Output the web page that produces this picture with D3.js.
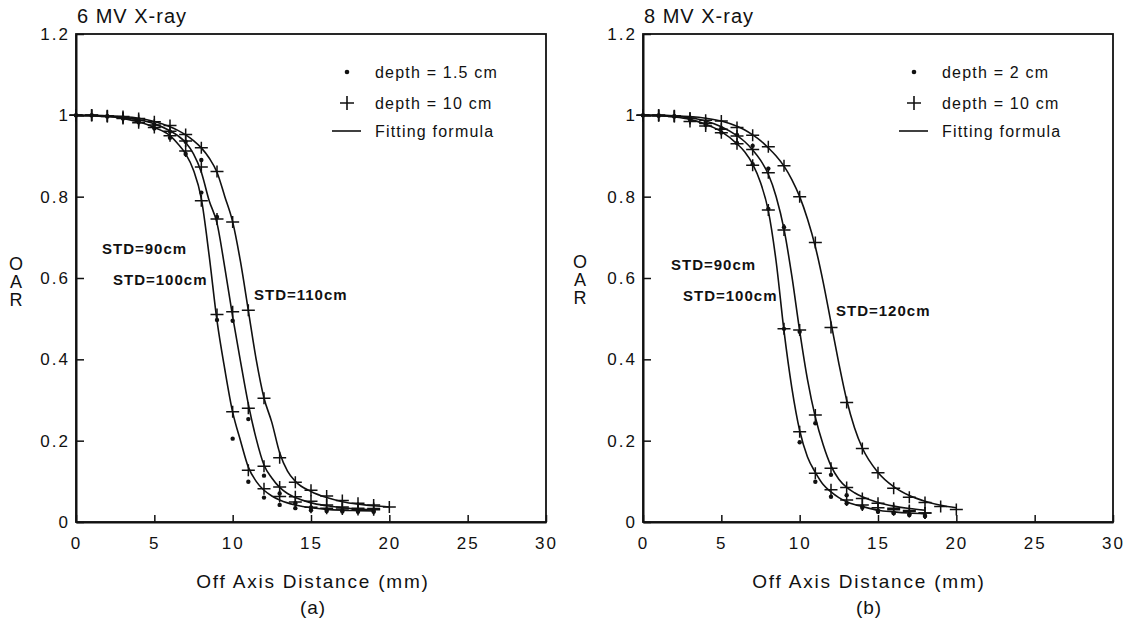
<!DOCTYPE html>
<html>
<head>
<meta charset="utf-8">
<script src="https://cdn.jsdelivr.net/npm/d3@7"></script>
<style>
  body { margin: 0; background: #fff; }
  svg { display: block; font-family: "Liberation Sans", Arial, Helvetica, sans-serif; }
  .tick text { font-size: 17px; letter-spacing: 2px; fill: #111; }
  .tick line { stroke: #111; stroke-width: 1.5; }
  .domain { stroke: #111; stroke-width: 2; }
  .label { fill: #111; }
</style>
</head>
<body>
<svg id="chart" width="1139" height="621"></svg>
<script>
// Tick values for both panels
const xTicks = [0, 5, 10, 15, 20, 25, 30];
const yTicks = [0, 0.2, 0.4, 0.6, 0.8, 1.0, 1.2];

// Measured positions (mm) of the markers
const markX = [0, 1, 2, 3, 4, 5, 6, 7, 8, 9, 10, 11, 12, 13, 14, 15, 16, 17, 18, 19, 20];

const fitX = [0, 1, 2, 3, 4, 5, 6, 6.5, 7, 7.5, 8, 8.5, 9, 9.5, 10, 10.5, 11, 11.5, 12, 12.5, 13, 13.5, 14, 15, 16, 17, 18, 19, 20];

// ---- (a) 6 MV X-ray ----
const fitA90  = [1, 0.999, 0.997, 0.992, 0.984, 0.97, 0.95, 0.93, 0.905, 0.865, 0.795, 0.655, 0.495, 0.375, 0.27, 0.2, 0.135, 0.1, 0.078, 0.064, 0.054, 0.047, 0.042, 0.035, 0.031, 0.029, 0.028, 0.027, null];
const fitA100 = [1, 0.999, 0.998, 0.995, 0.989, 0.979, 0.962, 0.95, 0.933, 0.905, 0.86, 0.79, 0.735, 0.625, 0.505, 0.395, 0.29, 0.205, 0.14, 0.108, 0.085, 0.07, 0.06, 0.047, 0.04, 0.035, 0.032, 0.03, null];
const fitA110 = [1, 1, 0.999, 0.997, 0.993, 0.985, 0.972, 0.963, 0.952, 0.938, 0.92, 0.895, 0.86, 0.8, 0.738, 0.64, 0.52, 0.4, 0.305, 0.245, 0.17, 0.125, 0.1, 0.075, 0.06, 0.05, 0.044, 0.04, 0.037];

const plusA90  = [1, 1, 0.997, 0.992, 0.982, 0.97, 0.95, 0.912, 0.79, 0.51, 0.271, 0.127, 0.082, 0.063, 0.049, 0.036, 0.034, 0.032, 0.031, 0.03];
const plusA100 = [1, 1, 0.998, 0.994, 0.987, 0.976, 0.961, 0.937, 0.873, 0.745, 0.517, 0.28, 0.137, 0.086, 0.062, 0.051, 0.042, 0.037, 0.034, 0.033];
const plusA110 = [1, 1, 0.999, 0.997, 0.992, 0.984, 0.975, 0.953, 0.92, 0.862, 0.738, 0.521, 0.304, 0.158, 0.098, 0.078, 0.064, 0.053, 0.046, 0.042, 0.037];
const dotA90   = [1, 1, 0.997, 0.992, 0.983, 0.968, 0.945, 0.905, 0.81, 0.497, 0.205, 0.099, 0.06, 0.042, 0.034, 0.029, 0.027, 0.026, 0.025, 0.025];
const dotA100  = [1, 1, 0.998, 0.994, 0.987, 0.977, 0.96, 0.935, 0.89, 0.75, 0.495, 0.253, 0.114, 0.07, 0.046, 0.036, 0.031, 0.029, 0.028, 0.027];

// ---- (b) 8 MV X-ray ----
const fitB90  = [1, 0.999, 0.996, 0.99, 0.978, 0.96, 0.93, 0.91, 0.88, 0.835, 0.765, 0.64, 0.47, 0.33, 0.225, 0.16, 0.122, 0.092, 0.074, 0.06, 0.05, 0.043, 0.038, 0.029, 0.025, 0.022, 0.02, null, null];
const fitB100 = [1, 1, 0.998, 0.994, 0.986, 0.972, 0.95, 0.935, 0.915, 0.89, 0.855, 0.8, 0.72, 0.605, 0.47, 0.35, 0.258, 0.19, 0.138, 0.105, 0.085, 0.072, 0.062, 0.048, 0.039, 0.033, 0.029, null, null];
const fitB120 = [1, 1, 0.999, 0.997, 0.993, 0.986, 0.973, 0.964, 0.952, 0.938, 0.92, 0.9, 0.875, 0.842, 0.8, 0.745, 0.677, 0.59, 0.49, 0.39, 0.3, 0.232, 0.182, 0.122, 0.087, 0.065, 0.051, 0.041, 0.035];

const plusB90  = [1, 0.999, 0.997, 0.985, 0.974, 0.957, 0.93, 0.877, 0.767, 0.475, 0.222, 0.12, 0.079, 0.054, 0.042, 0.035, 0.03, 0.026, 0.022];
const plusB100 = [1, 1, 0.998, 0.993, 0.98, 0.966, 0.949, 0.916, 0.859, 0.718, 0.472, 0.263, 0.132, 0.085, 0.058, 0.046, 0.034, 0.028, 0.022];
const plusB120 = [1, 1, 0.999, 0.993, 0.988, 0.986, 0.97, 0.951, 0.923, 0.876, 0.8, 0.687, 0.478, 0.294, 0.181, 0.121, 0.083, 0.061, 0.048, 0.038, 0.031];
const dotB90   = [1, 0.999, 0.997, 0.99, 0.976, 0.958, 0.932, 0.88, 0.77, 0.475, 0.196, 0.099, 0.062, 0.046, 0.035, 0.025, 0.022, 0.019, 0.015];
const dotB100  = [1, 1, 0.998, 0.993, 0.982, 0.968, 0.952, 0.925, 0.869, 0.725, 0.468, 0.243, 0.116, 0.066, 0.038, 0.028, 0.022, 0.017, 0.015];

// Text labels
const titles  = ['6 MV X-ray', '8 MV X-ray'];
const subs    = ['(a)', '(b)'];
const legendA = ['depth = 1.5 cm', 'depth = 10 cm', 'Fitting formula'];
const legendB = ['depth = 2 cm', 'depth = 10 cm', 'Fitting formula'];
const stdA    = ['STD=90cm', 'STD=100cm', 'STD=110cm'];
const stdB    = ['STD=90cm', 'STD=100cm', 'STD=120cm'];

const svg = d3.select('#chart');

// Helper: zip an x array and a y array into [x, y] pairs
function zip(xs, ys) {
    return ys.map((v, i) => [xs[i], v]);
}

function drawPanel(p) {
    const x = d3.scaleLinear().domain([0, 30]).range([p.left, p.right]);
    const y = d3.scaleLinear().domain([0, 1.2]).range([522, 34]);
    const g = svg.append('g');

    // frame (top + right sides)
    g.append('rect')
        .attr('x', p.left).attr('y', 34)
        .attr('width', p.right - p.left).attr('height', 522 - 34)
        .attr('fill', 'none').attr('stroke', '#111').attr('stroke-width', 1.8);

    // axes with inward ticks
    g.append('g')
        .attr('transform', 'translate(0,522)')
        .call(d3.axisBottom(x).tickValues(xTicks).tickSize(-7).tickSizeOuter(0).tickPadding(15));
    g.append('g')
        .attr('transform', `translate(${p.left},0)`)
        .call(d3.axisLeft(y).tickValues(yTicks).tickSize(-8).tickSizeOuter(0).tickPadding(6)
            .tickFormat(d => d === 0 ? '0' : d === 1 ? '1' : d3.format('.1f')(d)));

    // fitted curves
    const line = d3.line()
        .defined(d => d[1] != null)
        .x(d => x(d[0]))
        .y(d => y(d[1]))
        .curve(d3.curveMonotoneX);
    p.fits.forEach(f => {
        g.append('path')
            .datum(zip(fitX, f))
            .attr('d', line)
            .attr('fill', 'none')
            .attr('stroke', '#111')
            .attr('stroke-width', 1.6);
    });

    // depth = 1.5 / 2 cm dots
    p.dots.forEach(ds => {
        g.append('g').selectAll('circle')
            .data(zip(markX, ds))
            .join('circle')
            .attr('cx', d => x(d[0]))
            .attr('cy', d => y(d[1]))
            .attr('r', 2.2)
            .attr('fill', '#111');
    });

    // depth = 10 cm pluses
    p.pluses.forEach(ps => {
        g.append('g').selectAll('path')
            .data(zip(markX, ps))
            .join('path')
            .attr('transform', d => `translate(${x(d[0])},${y(d[1])})`)
            .attr('d', 'M-6.5,0H6.5M0,-6V6')
            .attr('stroke', '#111')
            .attr('stroke-width', 1.5);
    });

    // title
    g.append('text').attr('class', 'label')
        .attr('x', p.left + 1).attr('y', 23)
        .style('font-size', '20px').style('letter-spacing', '1px')
        .text(p.title);

    // x axis title and sub label
    g.append('text').attr('class', 'label')
        .attr('x', p.xLabelX).attr('y', 588)
        .attr('text-anchor', 'middle')
        .style('font-size', '19px').style('letter-spacing', '1.8px')
        .text('Off Axis Distance (mm)');
    g.append('text').attr('class', 'label')
        .attr('x', p.xLabelX).attr('y', 614)
        .attr('text-anchor', 'middle')
        .style('font-size', '19px').style('letter-spacing', '1px')
        .text(p.sub);

    // vertical "OAR" label, one letter per row
    g.append('g').selectAll('text')
        .data(['O', 'A', 'R'])
        .join('text').attr('class', 'label')
        .attr('x', p.oarX)
        .attr('y', (d, i) => p.oarY + i * 18)
        .attr('text-anchor', 'middle')
        .style('font-size', '18px')
        .text(d => d);

    // legend
    const lx = p.left + 271;
    g.append('circle').attr('cx', lx).attr('cy', 72).attr('r', 2.3).attr('fill', '#111');
    g.append('path')
        .attr('transform', `translate(${lx},103)`)
        .attr('d', 'M-7,0H7M0,-7V7')
        .attr('stroke', '#111').attr('stroke-width', 1.6);
    g.append('line')
        .attr('x1', lx - 15).attr('x2', lx + 14)
        .attr('y1', 131).attr('y2', 131)
        .attr('stroke', '#111').attr('stroke-width', 1.6);
    g.append('g').selectAll('text')
        .data(p.legend)
        .join('text').attr('class', 'label')
        .attr('x', lx + 28)
        .attr('y', (d, i) => [78, 109, 137][i])
        .style('font-size', '16px').style('letter-spacing', '1.2px')
        .text(d => d);

    // STD labels next to the curves
    g.append('g').selectAll('text')
        .data(p.std)
        .join('text').attr('class', 'label')
        .attr('x', (d, i) => p.stdPos[i][0])
        .attr('y', (d, i) => p.stdPos[i][1])
        .style('font-size', '15px').style('font-weight', 'bold').style('letter-spacing', '1px')
        .text(d => d);
}

drawPanel({
    left: 76, right: 546, title: titles[0], sub: subs[0], xLabelX: 313,
    oarX: 16, oarY: 270,
    fits: [fitA90, fitA100, fitA110],
    dots: [dotA90, dotA100],
    pluses: [plusA90, plusA100, plusA110],
    legend: legendA, std: stdA,
    stdPos: [[102, 254], [113, 285], [254, 300]]
});

drawPanel({
    left: 643, right: 1113, title: titles[1], sub: subs[1], xLabelX: 869,
    oarX: 580, oarY: 268,
    fits: [fitB90, fitB100, fitB120],
    dots: [dotB90, dotB100],
    pluses: [plusB90, plusB100, plusB120],
    legend: legendB, std: stdB,
    stdPos: [[671, 270], [683, 301], [836, 316]]
});
</script>
</body>
</html>
